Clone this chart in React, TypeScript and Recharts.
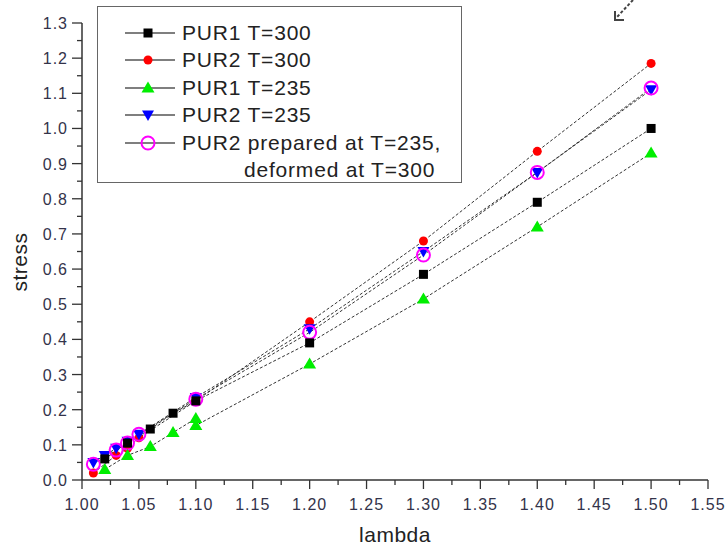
import React from "react";
import { LineChart, Line, XAxis, YAxis } from "recharts";

// lambda / stress pairs
const pur1T300 = [
  { x: 1.02, y: 0.06 }, { x: 1.04, y: 0.105 }, { x: 1.06, y: 0.145 }, { x: 1.08, y: 0.19 },
  { x: 1.1, y: 0.225 }, { x: 1.2, y: 0.39 }, { x: 1.3, y: 0.585 }, { x: 1.4, y: 0.79 }, { x: 1.5, y: 1.0 },
];
const pur2T300 = [
  { x: 1.01, y: 0.02 }, { x: 1.03, y: 0.07 }, { x: 1.04, y: 0.09 }, { x: 1.05, y: 0.12 },
  { x: 1.1, y: 0.225 }, { x: 1.2, y: 0.45 }, { x: 1.3, y: 0.68 }, { x: 1.4, y: 0.935 }, { x: 1.5, y: 1.185 },
];
const pur1T235 = [
  { x: 1.02, y: 0.03 }, { x: 1.04, y: 0.07 }, { x: 1.06, y: 0.095 }, { x: 1.08, y: 0.135 },
  { x: 1.1, y: 0.175 }, { x: 1.1, y: 0.155 }, { x: 1.2, y: 0.33 }, { x: 1.3, y: 0.515 },
  { x: 1.4, y: 0.72 }, { x: 1.5, y: 0.93 },
];
const pur2T235 = [
  { x: 1.01, y: 0.05 }, { x: 1.02, y: 0.07 }, { x: 1.03, y: 0.09 }, { x: 1.04, y: 0.11 },
  { x: 1.05, y: 0.13 }, { x: 1.1, y: 0.235 }, { x: 1.2, y: 0.43 }, { x: 1.3, y: 0.65 },
  { x: 1.4, y: 0.875 }, { x: 1.5, y: 1.11 },
];
const pur2Prep235Def300 = [
  { x: 1.01, y: 0.045 }, { x: 1.03, y: 0.085 }, { x: 1.04, y: 0.105 }, { x: 1.05, y: 0.13 },
  { x: 1.1, y: 0.23 }, { x: 1.2, y: 0.42 }, { x: 1.3, y: 0.64 }, { x: 1.4, y: 0.875 }, { x: 1.5, y: 1.115 },
];

const xTicks = [
  1.0, 1.025, 1.05, 1.075, 1.1, 1.125, 1.15, 1.175, 1.2, 1.225, 1.25, 1.275,
  1.3, 1.325, 1.35, 1.375, 1.4, 1.425, 1.45, 1.475, 1.5, 1.525, 1.55,
];
const yTicks = [
  0, 0.05, 0.1, 0.15, 0.2, 0.25, 0.3, 0.35, 0.4, 0.45, 0.5, 0.55, 0.6, 0.65,
  0.7, 0.75, 0.8, 0.85, 0.9, 0.95, 1.0, 1.05, 1.1, 1.15, 1.2, 1.25, 1.3,
];

const series = [
  { key: "pur1T300", name: ["PUR1 T=300"], kind: "square", data: pur1T300 },
  { key: "pur2T300", name: ["PUR2 T=300"], kind: "circle", data: pur2T300 },
  { key: "pur1T235", name: ["PUR1 T=235"], kind: "up", data: pur1T235 },
  { key: "pur2T235", name: ["PUR2 T=235"], kind: "down", data: pur2T235 },
  { key: "pur2mix", name: ["PUR2 prepared at T=235,", "deformed at T=300"], kind: "open", data: pur2Prep235Def300 },
];
// draw order in the plot (bottom to top)
const drawOrder = ["pur2T300", "pur2T235", "pur2mix", "pur1T235", "pur1T300"];

const FONT = "'Liberation Sans', Arial, sans-serif";
const AXIS = "#333";
const TICK_TEXT = "#33334a";

function Marker({ kind, cx, cy }: { kind: string; cx: number; cy: number }) {
  if (cx == null || cy == null) return null;
  switch (kind) {
    case "square":
      return <rect x={cx - 4.5} y={cy - 4.5} width={9} height={9} fill="#000" />;
    case "circle":
      return <circle cx={cx} cy={cy} r={4.5} fill="#ff0000" />;
    case "up":
      return <polygon points={`${cx},${cy - 6.5} ${cx + 6.5},${cy + 4.5} ${cx - 6.5},${cy + 4.5}`} fill="#00ee00" />;
    case "down":
      return <polygon points={`${cx - 6},${cy - 4.5} ${cx + 6},${cy - 4.5} ${cx},${cy + 6}`} fill="#0000ff" />;
    default:
      return <circle cx={cx} cy={cy} r={6.5} fill="none" stroke="#ff00ff" strokeWidth={2} />;
  }
}

const XTick = (props: any) => {
  const { x, y, payload } = props;
  const v = payload.value as number;
  const major = Math.round(v * 40) % 2 === 0;
  return (
    <g>
      <line x1={x} y1={y} x2={x} y2={y + (major ? 9 : 5)} stroke={AXIS} strokeWidth={1.3} />
      {major && (
        <text x={x} y={y + 30} textAnchor="middle" fontSize={16} letterSpacing={1} fontFamily={FONT} fill={TICK_TEXT}>
          {v.toFixed(2)}
        </text>
      )}
    </g>
  );
};

const YTick = (props: any) => {
  const { x, y, payload } = props;
  const v = payload.value as number;
  const major = Math.round(v * 20) % 2 === 0;
  return (
    <g>
      <line x1={x - (major ? 10 : 5)} y1={y} x2={x} y2={y} stroke={AXIS} strokeWidth={1.3} />
      {major && (
        <text x={x - 14} y={y + 6} textAnchor="end" fontSize={16} letterSpacing={1} fontFamily={FONT} fill={TICK_TEXT}>
          {v.toFixed(1)}
        </text>
      )}
    </g>
  );
};

function LegendBox() {
  return (
    <div
      style={{
        position: "absolute",
        left: 97,
        top: 6,
        width: 365,
        height: 177,
        border: "1.5px solid #666",
        background: "#fff",
        fontFamily: FONT,
        fontSize: 21,
        letterSpacing: 0.8,
        color: "#222",
        paddingTop: 12,
        boxSizing: "border-box",
      }}
    >
      {series.map((s) =>
        s.name.map((line, i) => (
          <div key={s.key + i} style={{ height: 27.5, display: "flex", alignItems: "center", whiteSpace: "nowrap" }}>
            {i === 0 ? (
              <svg width={52} height={20} style={{ marginLeft: 27, marginRight: 5, flexShrink: 0 }}>
                <line x1={0} y1={10} x2={50} y2={10} stroke="#555" strokeWidth={1.5} />
                <Marker kind={s.kind} cx={23} cy={10} />
              </svg>
            ) : (
              <div style={{ width: 146, flexShrink: 0 }} />
            )}
            <span>{line}</span>
          </div>
        ))
      )}
    </div>
  );
}

export default function App() {
  return (
    <div style={{ position: "absolute", left: 0, top: 0, width: 725, height: 546, background: "#fff" }}>
      <LineChart width={725} height={546} margin={{ top: 23, right: 17, left: 22, bottom: 26 }}>
        <XAxis
          type="number"
          dataKey="x"
          domain={[1.0, 1.55]}
          ticks={xTicks}
          interval={0}
          tickSize={0}
          tickMargin={0}
          tickLine={false}
          height={40}
          axisLine={{ stroke: AXIS, strokeWidth: 1.5 }}
          tick={<XTick />}
          allowDataOverflow
        />
        <YAxis
          type="number"
          dataKey="y"
          domain={[0, 1.3]}
          ticks={yTicks}
          interval={0}
          tickSize={0}
          tickMargin={0}
          tickLine={false}
          width={60}
          axisLine={{ stroke: AXIS, strokeWidth: 1.5 }}
          tick={<YTick />}
          allowDataOverflow
        />
        {drawOrder.map((k) => {
          const s = series.find((d) => d.key === k)!;
          return (
            <Line
              key={s.key}
              data={s.data}
              dataKey="y"
              type="linear"
              stroke="#333"
              strokeWidth={1}
              strokeDasharray="3 2"
              isAnimationActive={false}
              dot={(p: any) => <Marker key={`${s.key}-${p.index}`} kind={s.kind} cx={p.cx} cy={p.cy} />}
              activeDot={false}
            />
          );
        })}
      </LineChart>
      <LegendBox />
      <div
        style={{
          position: "absolute",
          left: 20,
          top: 262,
          transform: "translate(-50%, -50%) rotate(-90deg)",
          fontFamily: FONT,
          fontSize: 21,
          letterSpacing: 0.5,
          color: "#222",
        }}
      >
        stress
      </div>
      <div
        style={{
          position: "absolute",
          left: 395,
          top: 535,
          transform: "translate(-50%, -50%)",
          fontFamily: FONT,
          fontSize: 21,
          letterSpacing: 0.5,
          color: "#222",
        }}
      >
        lambda
      </div>
      <svg width={40} height={30} style={{ position: "absolute", left: 605, top: 0 }}>
        <line x1={28} y1={0} x2={12} y2={17} stroke="#444" strokeWidth={2} strokeDasharray="3 2" />
        <polyline points="10,11 10,20 19,20" fill="none" stroke="#444" strokeWidth={2} />
      </svg>
    </div>
  );
}
